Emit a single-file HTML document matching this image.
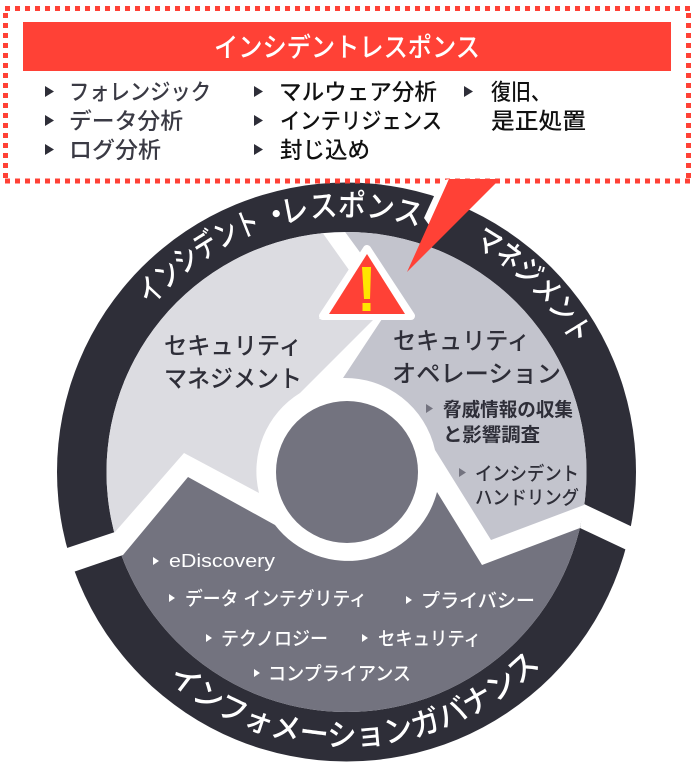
<!DOCTYPE html>
<html><head><meta charset="utf-8"><style>
html,body{margin:0;padding:0;background:#fff}
svg{display:block}
text{font-family:"Liberation Sans","Noto Sans CJK JP",sans-serif;font-weight:500}
</style></head><body>
<svg xmlns="http://www.w3.org/2000/svg" width="696" height="764" viewBox="0 0 696 764">
<defs>
<clipPath id="c"><circle cx="346.500" cy="472" r="240"/></clipPath>
<path id="top" d="M 90.500 472 a 256 256 0 0 1 512 0"/>
<path id="top2" d="M 86.500 472 a 260 260 0 0 1 520 0"/>
<path id="bot" d="M 72.500 472 a 274 274 0 0 0 548 0"/>
</defs>
<rect width="696" height="764" fill="#fff"/>
<!-- ring -->
<circle cx="346.500" cy="472" r="289.500" fill="#2e2e38"/>
<circle cx="346.500" cy="472" r="240" fill="#fff"/>
<polygon points="115,532 40,557 50,580 123,555" fill="#fff"/>
<polygon points="584,504 660,540 650,561 580,528" fill="#fff"/>
<!-- sections -->
<g clip-path="url(#c)">
<path d="M317,225 L349,270 L319,319 L373,320 L300,393 A92,92 0 0 0 259,493 L184,453 L115,532 L60,560 L60,180 L317,180 Z" fill="#dcdce1"/>
<path d="M340,225 L367,262 L382,319 L343,378 A92,92 0 0 1 435,450 L491,540 L584,505 L640,480 L640,180 L340,180 Z" fill="#c3c4cd"/>
<path d="M123,555 L188,477 L275,525 A92,92 0 0 0 437,492 L482,565 L580,528 L640,600 L640,760 L60,760 L60,570 Z" fill="#73737f"/>
</g>
<!-- hub -->
<circle cx="347" cy="472" r="71" fill="#73737f"/>
<!-- ring text -->
<g font-size="31" fill="#fff">
<text><textPath href="#top" startOffset="180" textLength="136" lengthAdjust="spacingAndGlyphs">インシデント</textPath></text>
<text text-anchor="middle"><textPath href="#top" startOffset="334">・</textPath></text>
<text><textPath href="#top" startOffset="338" textLength="138" lengthAdjust="spacingAndGlyphs">レスポンス</textPath></text>
<text text-anchor="middle"><textPath href="#top" startOffset="482">・</textPath></text>
<text><textPath href="#top2" startOffset="540" textLength="145" lengthAdjust="spacingAndGlyphs">マネジメント</textPath></text>
</g>
<text font-size="31" fill="#fff"><textPath href="#bot" startOffset="235" textLength="411" lengthAdjust="spacingAndGlyphs">インフォメーションガバナンス</textPath></text>
<!-- box -->
<path d="M5,8.5 H690 M688.5,13 V181 M5.5,13 V181 M5,181 H690" fill="none" stroke="#ff4136" stroke-width="5" stroke-dasharray="5 5"/>
<rect x="23" y="22" width="648" height="49" fill="#ff4136"/>
<text x="347" y="57" font-size="27" fill="#fff" text-anchor="middle" textLength="266" lengthAdjust="spacingAndGlyphs">インシデントレスポンス</text>
<!-- list -->
<g fill="#2e2e38">
<polygon points="45,86 45,97 54,91.5"/><polygon points="45,115 45,126 54,120.5"/><polygon points="45,144 45,155 54,149.5"/>
<polygon points="254,86 254,97 263,91.5"/><polygon points="254,115 254,126 263,120.5"/><polygon points="254,144 254,155 263,149.5"/>
<polygon points="464,86 464,97 473,91.5"/>
</g>
<g font-size="22.500">
<text x="69" y="100" textLength="142" lengthAdjust="spacingAndGlyphs" fill="#3a3a44">フォレンジック</text>
<text x="69" y="129" textLength="114" lengthAdjust="spacingAndGlyphs" fill="#3a3a44">データ分析</text>
<text x="69" y="158" textLength="92" lengthAdjust="spacingAndGlyphs" fill="#3a3a44">ログ分析</text>
<text x="279" y="100" textLength="158" lengthAdjust="spacingAndGlyphs" fill="#111">マルウェア分析</text>
<text x="280" y="129" textLength="162" lengthAdjust="spacingAndGlyphs" fill="#111">インテリジェンス</text>
<text x="280" y="158" textLength="90" lengthAdjust="spacingAndGlyphs" fill="#111">封じ込め</text>
<text x="491" y="100" textLength="60" lengthAdjust="spacingAndGlyphs" fill="#111">復旧、</text>
<text x="491" y="129" textLength="95" lengthAdjust="spacingAndGlyphs" fill="#111">是正処置</text>
</g>
<!-- pointer -->
<polygon points="441,181 449,179 429,225 424,218" fill="#fff"/>
<polygon points="449,179 500,179 407,272" fill="#ff4136"/>
<!-- warning -->
<polygon points="367,249 323,316 411,316" fill="#ff4136" stroke="#fff" stroke-width="8" stroke-linejoin="round"/>
<polygon points="367,254 405,314 329,314" fill="#ff4136"/>
<polygon points="362,267 371,267 370,299 364,299" fill="#ffe600"/>
<rect x="362.500" y="303" width="8" height="8" fill="#ffe600"/>
<!-- section labels -->
<g fill="#2e2e38" font-size="24">
<text x="164" y="354" textLength="138" lengthAdjust="spacingAndGlyphs">セキュリティ</text>
<text x="164" y="387" textLength="138" lengthAdjust="spacingAndGlyphs">マネジメント</text>
<text x="393" y="349" textLength="137" lengthAdjust="spacingAndGlyphs">セキュリティ</text>
<text x="392" y="382" textLength="169" lengthAdjust="spacingAndGlyphs">オペレーション</text>
</g>
<g fill="#2e2e38" font-size="19">
<text x="443" y="416" textLength="130" lengthAdjust="spacingAndGlyphs" style="font-weight:700">脅威情報の収集</text>
<text x="443" y="441" textLength="97" lengthAdjust="spacingAndGlyphs" style="font-weight:700">と影響調査</text>
<text x="475" y="480" textLength="104" lengthAdjust="spacingAndGlyphs">インシデント</text>
<text x="475" y="504" textLength="104" lengthAdjust="spacingAndGlyphs">ハンドリング</text>
</g>
<polygon points="426,404 426,413 433,408.500" fill="#73737f"/>
<polygon points="459,468 459,477 466,472.500" fill="#73737f"/>
<!-- governance list -->
<g fill="#fff">
<polygon points="153,557 153,565 159,561"/>
<polygon points="169,594 169,602 175,598"/>
<polygon points="406,596 406,604 412,600"/>
<polygon points="206,634 206,642 212,638"/>
<polygon points="362,634 362,642 368,638"/>
<polygon points="254,669 254,677 260,673"/>
</g>
<g fill="#fff" font-size="19">
<text x="169" y="567" textLength="106" lengthAdjust="spacingAndGlyphs" font-size="18">eDiscovery</text>
<text x="185" y="605" textLength="182" lengthAdjust="spacingAndGlyphs">データ インテグリティ</text>
<text x="421" y="607" textLength="114" lengthAdjust="spacingAndGlyphs">プライバシー</text>
<text x="221" y="645" textLength="107" lengthAdjust="spacingAndGlyphs">テクノロジー</text>
<text x="378" y="645" textLength="103" lengthAdjust="spacingAndGlyphs">セキュリティ</text>
<text x="268" y="680" textLength="143" lengthAdjust="spacingAndGlyphs">コンプライアンス</text>
</g>
</svg>
</body></html>
